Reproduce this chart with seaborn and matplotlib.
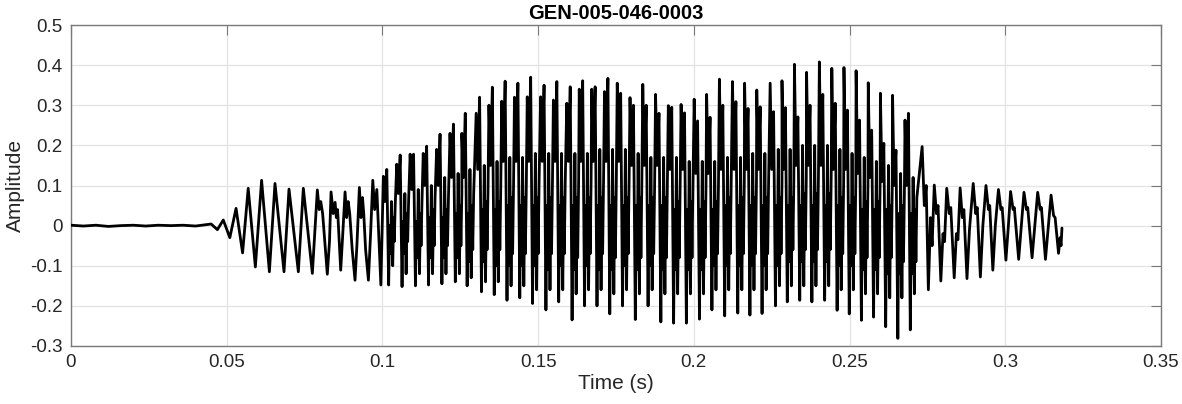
import numpy as np
import pandas as pd
import matplotlib
matplotlib.use("Agg")
import matplotlib.pyplot as plt
import seaborn as sns

# ---------------- data ----------------
title = "GEN-005-046-0003"
x_label = "Time (s)"
y_label = "Amplitude"
x_ticks = [0, 0.05, 0.1, 0.15, 0.2, 0.25, 0.3, 0.35]
x_tick_labels = ["0", "0.05", "0.1", "0.15", "0.2", "0.25", "0.3", "0.35"]
y_ticks = [-0.3, -0.2, -0.1, 0, 0.1, 0.2, 0.3, 0.4, 0.5]
y_tick_labels = ["-0.3", "-0.2", "-0.1", "0", "0.1", "0.2", "0.3", "0.4", "0.5"]

# silence + onset (successive extrema)
onset_t = [0.000, 0.004, 0.008, 0.012, 0.016, 0.020, 0.024, 0.028, 0.032, 0.036, 0.040, 0.043,
           0.045, 0.047, 0.0489, 0.0510, 0.0530, 0.0551, 0.0569, 0.0592, 0.0612, 0.0637,
           0.0655, 0.0684, 0.0700, 0.0730, 0.0746, 0.0775]
onset_y = [0.001, -0.001, 0.001, -0.002, 0.000, 0.001, -0.001, 0.001, 0.000, 0.001, -0.001, 0.002,
           0.004, -0.010, 0.014, -0.030, 0.043, -0.068, 0.093, -0.103, 0.113, -0.115,
           0.105, -0.115, 0.091, -0.115, 0.093, -0.119]

# transition to complex cycles
trans_t = [0.0791, 0.0797, 0.0802, 0.0808, 0.0823, 0.0830, 0.0835, 0.0842, 0.0848, 0.0852, 0.0856,
           0.0866, 0.0872, 0.0880, 0.0885, 0.0890, 0.0895, 0.0903, 0.0912, 0.0918, 0.0926,
           0.0931, 0.0936, 0.0940, 0.0946, 0.0955, 0.0962, 0.0969, 0.0975, 0.0982, 0.0987,
           0.0995]
trans_y = [0.089, 0.040, 0.060, 0.030, -0.121, -0.040, 0.084, 0.030, 0.058, 0.020, 0.040,
           -0.111, -0.030, 0.084, 0.020, 0.060, 0.030, -0.060, -0.136, -0.050, 0.095,
           0.020, 0.070, 0.030, -0.060, -0.136, -0.020, 0.113, 0.040, 0.090, 0.000,
           -0.148]

# voiced cycles: start time and the successive extrema inside each cycle
cyc_t = [0.1003, 0.1046, 0.1089, 0.1131, 0.1174, 0.1217, 0.1255, 0.1301, 0.1342, 0.1383, 0.1424,
         0.1465, 0.1508, 0.1549, 0.1592, 0.1632, 0.1672, 0.1713, 0.1754, 0.1795, 0.1836, 0.1877,
         0.1918, 0.1959, 0.2001, 0.2041, 0.2082, 0.2124, 0.2163, 0.2202, 0.2245, 0.2283, 0.2323,
         0.2362, 0.2403, 0.2443, 0.2482, 0.2521, 0.2560, 0.2599, 0.2638, 0.2678]
cyc_a = [0.123, 0.153, 0.178, 0.180, 0.190, 0.230, 0.230, 0.280, 0.300, 0.310, 0.320,
         0.321, 0.321, 0.313, 0.305, 0.340, 0.340, 0.334, 0.355, 0.319, 0.352, 0.327,
         0.299, 0.302, 0.315, 0.327, 0.365, 0.359, 0.355, 0.338, 0.355, 0.361, 0.402,
         0.382, 0.408, 0.392, 0.394, 0.386, 0.356, 0.330, 0.325, 0.263]
cyc_dip = [0.06, 0.08, 0.09, 0.10, 0.10, 0.12, 0.12, 0.14, 0.15, 0.16, 0.16,
           0.16, 0.16, 0.16, 0.16, 0.16, 0.16, 0.16, 0.16, 0.15, 0.15, 0.15,
           0.14, 0.14, 0.13, 0.13, 0.14, 0.14, 0.14, 0.14, 0.14, 0.14, 0.15,
           0.15, 0.15, 0.14, 0.14, 0.13, 0.12, 0.11, 0.10, 0.10]
cyc_b = [0.140, 0.176, 0.178, 0.198, 0.228, 0.253, 0.280, 0.320, 0.345, 0.360, 0.355,
         0.370, 0.350, 0.359, 0.346, 0.361, 0.346, 0.367, 0.330, 0.300, 0.300, 0.280,
         0.295, 0.281, 0.261, 0.270, 0.300, 0.309, 0.292, 0.296, 0.284, 0.294, 0.271,
         0.300, 0.327, 0.305, 0.288, 0.263, 0.238, 0.205, 0.188, 0.280]
cyc_t1 = [-0.148, -0.152, -0.150, -0.148, -0.145, -0.140, -0.150, -0.165, -0.172, -0.186, -0.180,
          -0.194, -0.210, -0.190, -0.235, -0.200, -0.200, -0.220, -0.200, -0.234, -0.200, -0.240,
          -0.243, -0.243, -0.233, -0.210, -0.225, -0.218, -0.223, -0.219, -0.200, -0.190, -0.186,
          -0.190, -0.186, -0.211, -0.220, -0.236, -0.228, -0.252, -0.281, -0.260]
cyc_w1 = [0.00, 0.01, 0.01, 0.02, 0.02, 0.03, 0.03, 0.04, 0.04, 0.05, 0.05,
          0.05, 0.05, 0.05, 0.05, 0.05, 0.05, 0.05, 0.05, 0.05, 0.05, 0.05,
          0.04, 0.04, 0.04, 0.04, 0.05, 0.05, 0.05, 0.05, 0.05, 0.05, 0.05,
          0.05, 0.05, 0.05, 0.05, 0.04, 0.04, 0.04, 0.03, 0.03]
cyc_w2 = [-0.07, -0.07, -0.08, -0.08, -0.08, -0.08, -0.09, -0.09, -0.10, -0.10, -0.10,
          -0.10, -0.11, -0.10, -0.11, -0.10, -0.11, -0.11, -0.10, -0.11, -0.10, -0.11,
          -0.11, -0.11, -0.11, -0.10, -0.10, -0.10, -0.10, -0.10, -0.10, -0.09, -0.09,
          -0.09, -0.09, -0.10, -0.10, -0.11, -0.11, -0.12, -0.12, -0.12]
cyc_c = [0.06, 0.08, 0.09, 0.10, 0.12, 0.13, 0.14, 0.15, 0.16, 0.17, 0.17,
         0.18, 0.18, 0.18, 0.18, 0.18, 0.19, 0.19, 0.19, 0.18, 0.17, 0.17,
         0.17, 0.16, 0.16, 0.16, 0.17, 0.17, 0.18, 0.18, 0.19, 0.19, 0.20,
         0.20, 0.20, 0.19, 0.18, 0.17, 0.16, 0.15, 0.13, 0.12]
cyc_t2 = [-0.10, -0.12, -0.12, -0.12, -0.12, -0.12, -0.13, -0.14, -0.14, -0.15, -0.15,
          -0.16, -0.16, -0.16, -0.17, -0.16, -0.16, -0.17, -0.16, -0.17, -0.16, -0.17,
          -0.17, -0.17, -0.17, -0.16, -0.16, -0.16, -0.16, -0.16, -0.15, -0.15, -0.15,
          -0.15, -0.15, -0.16, -0.16, -0.17, -0.17, -0.18, -0.18, -0.17]
cyc_w3 = [0.02, 0.03, 0.03, 0.04, 0.04, 0.05, 0.05, 0.06, 0.06, 0.07, 0.07,
          0.07, 0.07, 0.07, 0.07, 0.07, 0.07, 0.07, 0.07, 0.07, 0.07, 0.07,
          0.06, 0.06, 0.06, 0.06, 0.07, 0.07, 0.07, 0.07, 0.07, 0.07, 0.08,
          0.08, 0.08, 0.07, 0.07, 0.06, 0.06, 0.05, 0.05, 0.04]
cyc_w4 = [-0.04, -0.04, -0.05, -0.05, -0.05, -0.05, -0.06, -0.06, -0.06, -0.07, -0.07,
          -0.07, -0.07, -0.07, -0.08, -0.07, -0.07, -0.08, -0.07, -0.08, -0.07, -0.08,
          -0.08, -0.08, -0.08, -0.07, -0.07, -0.07, -0.07, -0.07, -0.07, -0.06, -0.06,
          -0.06, -0.06, -0.07, -0.07, -0.08, -0.08, -0.08, -0.09, -0.09]
cyc_d = [0.05, 0.06, 0.06, 0.07, 0.07, 0.08, 0.08, 0.09, 0.10, 0.10, 0.10,
         0.11, 0.11, 0.11, 0.11, 0.11, 0.11, 0.11, 0.11, 0.11, 0.10, 0.10,
         0.10, 0.10, 0.10, 0.10, 0.11, 0.11, 0.11, 0.11, 0.11, 0.11, 0.12,
         0.12, 0.12, 0.11, 0.11, 0.10, 0.10, 0.09, 0.08, 0.07]
# position of each extremum inside a cycle (s after the cycle start)
cyc_offsets = [0.0, 0.0005, 0.0011, 0.0017, 0.0020, 0.0023, 0.0026, 0.0030, 0.0033, 0.0035, 0.0038]

# decay and tail (successive extrema)
tail_t = [0.2733, 0.2740, 0.2746, 0.2753, 0.2760, 0.2765,
          0.2772, 0.2779, 0.2784, 0.2793, 0.2800, 0.2805,
          0.2812, 0.2820, 0.2825, 0.2836, 0.2843, 0.2848,
          0.2855, 0.2862, 0.2867, 0.2877, 0.2885,
          0.2897, 0.2905, 0.2910, 0.2920, 0.2928,
          0.2938, 0.2946, 0.2950, 0.2960, 0.2968,
          0.2978, 0.2986, 0.2990, 0.3002, 0.3010,
          0.3017, 0.3025, 0.3029, 0.3043,
          0.3060, 0.3068, 0.3072, 0.3086,
          0.3104, 0.3112, 0.3116, 0.3129,
          0.3147, 0.3155, 0.3160, 0.3171, 0.3176, 0.3179, 0.3182]
tail_y = [0.197, 0.050, 0.100, -0.160, 0.020, -0.050,
          0.101, 0.030, 0.050, -0.138, -0.020, -0.040,
          0.093, 0.030, 0.045, -0.130, -0.020, -0.035,
          0.094, 0.020, 0.040, -0.132, -0.010,
          0.105, 0.030, 0.045, -0.128, 0.000,
          0.100, 0.040, 0.050, -0.111, 0.000,
          0.090, 0.040, 0.045, -0.086, 0.000,
          0.085, 0.040, 0.045, -0.084,
          0.083, 0.040, 0.045, -0.080,
          0.083, 0.040, 0.045, -0.084,
          0.076, 0.025, 0.020, -0.069, -0.030, -0.050, -0.006]

# ---------------- assemble the polyline ----------------
cyc_vals = np.array([cyc_a, cyc_dip, cyc_b, cyc_t1, cyc_w1, cyc_w2, cyc_c,
                     cyc_t2, cyc_w3, cyc_w4, cyc_d]).T
cyc_times = np.array(cyc_t)[:, None] + np.array(cyc_offsets)[None, :]
t_all = np.concatenate([onset_t, trans_t, cyc_times.ravel(), tail_t])
y_all = np.concatenate([onset_y, trans_y, cyc_vals.ravel(), tail_y])
df = pd.DataFrame({"t": t_all, "y": y_all})

# ---------------- style ----------------
sns.set_style("white")
plt.rcParams["font.family"] = ["Liberation Sans", "DejaVu Sans"]
axis_col = "#262626"
spine_col = "#7a7a7a"

fig = plt.figure(figsize=(11.82, 4.04), dpi=100)
ax = fig.add_axes([71 / 1182, 58 / 404, 1090 / 1182, 321 / 404])

sns.lineplot(data=df, x="t", y="y", sort=False, estimator=None, color="black",
             linewidth=2.0, ax=ax, zorder=3)

ax.set_xlim(0, 0.35)
ax.set_ylim(-0.3, 0.5)
ax.set_xticks(x_ticks)
ax.set_xticklabels(x_tick_labels)
ax.set_yticks(y_ticks)
ax.set_yticklabels(y_tick_labels)
ax.grid(True, color="#e3e3e3", linewidth=0.9, zorder=0)
ax.set_axisbelow(True)
for s in ax.spines.values():
    s.set_color(spine_col)
    s.set_linewidth(1.0)
    s.set_visible(True)
ax.tick_params(axis="both", direction="in", length=7.5, width=0.8, color=spine_col,
               labelsize=13.5, labelcolor=axis_col, top=True, right=True, pad=6)
ax.set_xlabel(x_label, fontsize=15, color=axis_col, labelpad=2)
ax.set_ylabel(y_label, fontsize=15, color=axis_col, labelpad=4)
ax.set_title(title, fontsize=14.5, fontweight="bold", color="black", pad=4)

fig.savefig("out.png", dpi=100)
